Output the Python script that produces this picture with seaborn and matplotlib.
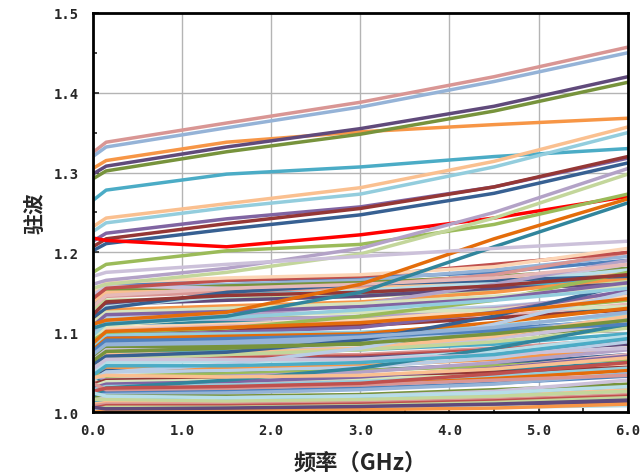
import numpy as np
import pandas as pd
import seaborn as sns
import matplotlib.pyplot as plt
from matplotlib.ticker import MultipleLocator

# frequency sample points (GHz)
freq = [0.0, 0.15, 1.5, 3.0, 4.5, 6.0]

# distinct upper curves
top_curves = [
    [1.325, 1.338, 1.362, 1.388, 1.420, 1.457],
    [1.320, 1.332, 1.356, 1.382, 1.414, 1.450],
    [1.305, 1.315, 1.338, 1.351, 1.360, 1.368],
    [1.298, 1.308, 1.332, 1.355, 1.383, 1.420],
    [1.292, 1.302, 1.326, 1.348, 1.377, 1.413],
    [1.265, 1.278, 1.298, 1.307, 1.320, 1.330],
    [1.232, 1.243, 1.261, 1.281, 1.314, 1.357],
    [1.226, 1.237, 1.256, 1.273, 1.307, 1.350],
    [1.214, 1.224, 1.242, 1.257, 1.282, 1.318],
    [1.207, 1.217, 1.236, 1.255, 1.282, 1.320],
    [1.202, 1.211, 1.229, 1.247, 1.274, 1.312],
    [1.218, 1.215, 1.207, 1.222, 1.243, 1.270],
    [1.175, 1.185, 1.202, 1.210, 1.235, 1.273],
    [1.160, 1.165, 1.180, 1.205, 1.250, 1.305],
    [1.155, 1.160, 1.175, 1.198, 1.243, 1.298],
    [1.110, 1.115, 1.125, 1.160, 1.217, 1.267],
    [1.105, 1.110, 1.120, 1.150, 1.207, 1.262],
    [1.170, 1.175, 1.185, 1.195, 1.205, 1.214],
]
top_colors = ['#D99694', '#95B3D7', '#F79646', '#604A7B', '#77933C', '#4BACC6',
              '#FAC090', '#93CDDD', '#8064A2', '#953735', '#376092', '#FF0000',
              '#9BBB59', '#B3A2C7', '#C3D69B', '#E46C0A', '#31859C', '#CCC1DA']

# the dense bundle below 1.2
low_curves = [
    [1.150, 1.160, 1.165, 1.168, 1.175, 1.190],
    [1.145, 1.155, 1.160, 1.165, 1.178, 1.195],
    [1.140, 1.152, 1.158, 1.162, 1.170, 1.180],
    [1.148, 1.158, 1.155, 1.150, 1.160, 1.185],
    [1.135, 1.148, 1.150, 1.148, 1.155, 1.170],
    [1.138, 1.150, 1.152, 1.156, 1.165, 1.175],
    [1.130, 1.145, 1.150, 1.158, 1.172, 1.200],
    [1.142, 1.155, 1.165, 1.170, 1.185, 1.200],
    [1.128, 1.140, 1.142, 1.145, 1.152, 1.165],
    [1.120, 1.135, 1.140, 1.145, 1.155, 1.160],
    [1.125, 1.132, 1.145, 1.152, 1.162, 1.178],
    [1.115, 1.128, 1.133, 1.138, 1.150, 1.168],
    [1.118, 1.130, 1.150, 1.160, 1.165, 1.170],
    [1.105, 1.118, 1.122, 1.125, 1.132, 1.145],
    [1.100, 1.115, 1.118, 1.118, 1.125, 1.140],
    [1.095, 1.110, 1.115, 1.120, 1.130, 1.148],
    [1.098, 1.112, 1.112, 1.110, 1.118, 1.130],
    [1.090, 1.105, 1.110, 1.115, 1.128, 1.145],
    [1.088, 1.102, 1.108, 1.112, 1.120, 1.135],
    [1.085, 1.100, 1.104, 1.108, 1.118, 1.128],
    [1.092, 1.108, 1.120, 1.125, 1.128, 1.132],
    [1.080, 1.095, 1.100, 1.106, 1.125, 1.152],
    [1.082, 1.097, 1.098, 1.100, 1.108, 1.122],
    [1.078, 1.092, 1.095, 1.098, 1.112, 1.130],
    [1.075, 1.088, 1.092, 1.096, 1.104, 1.115],
    [1.070, 1.082, 1.085, 1.090, 1.100, 1.118],
    [1.068, 1.080, 1.082, 1.085, 1.094, 1.108],
    [1.065, 1.078, 1.078, 1.080, 1.092, 1.112],
    [1.062, 1.075, 1.076, 1.078, 1.085, 1.098],
    [1.060, 1.072, 1.074, 1.080, 1.095, 1.120],
    [1.058, 1.070, 1.070, 1.072, 1.080, 1.092],
    [1.055, 1.068, 1.068, 1.070, 1.078, 1.090],
    [1.057, 1.066, 1.072, 1.078, 1.088, 1.105],
    [1.052, 1.064, 1.065, 1.068, 1.075, 1.085],
    [1.050, 1.062, 1.063, 1.066, 1.076, 1.095],
    [1.045, 1.055, 1.055, 1.058, 1.066, 1.080],
    [1.042, 1.052, 1.050, 1.052, 1.060, 1.072],
    [1.040, 1.050, 1.052, 1.056, 1.068, 1.088],
    [1.048, 1.045, 1.048, 1.052, 1.058, 1.066],
    [1.045, 1.040, 1.045, 1.050, 1.062, 1.078],
    [1.042, 1.036, 1.040, 1.044, 1.052, 1.062],
    [1.040, 1.032, 1.036, 1.040, 1.048, 1.058],
    [1.038, 1.030, 1.035, 1.042, 1.055, 1.072],
    [1.035, 1.040, 1.042, 1.045, 1.050, 1.056],
    [1.032, 1.038, 1.040, 1.042, 1.046, 1.050],
    [1.030, 1.035, 1.038, 1.044, 1.055, 1.070],
    [1.028, 1.032, 1.034, 1.038, 1.045, 1.055],
    [1.025, 1.028, 1.030, 1.034, 1.042, 1.052],
    [1.022, 1.025, 1.026, 1.030, 1.036, 1.045],
    [1.020, 1.022, 1.024, 1.028, 1.035, 1.048],
    [1.018, 1.020, 1.020, 1.022, 1.028, 1.035],
    [1.015, 1.018, 1.018, 1.020, 1.026, 1.040],
    [1.012, 1.015, 1.016, 1.018, 1.022, 1.030],
    [1.010, 1.012, 1.013, 1.015, 1.020, 1.028],
    [1.008, 1.010, 1.010, 1.012, 1.016, 1.022],
    [1.005, 1.008, 1.008, 1.010, 1.014, 1.020],
    [1.003, 1.006, 1.006, 1.008, 1.012, 1.018],
    [1.000, 1.004, 1.004, 1.006, 1.009, 1.012],
    [1.002, 1.002, 1.003, 1.004, 1.006, 1.008],
    [1.000, 1.001, 1.002, 1.003, 1.005, 1.010],
    [1.060, 1.070, 1.075, 1.090, 1.120, 1.160],
    [1.040, 1.050, 1.060, 1.080, 1.110, 1.150],
    [1.090, 1.100, 1.105, 1.120, 1.140, 1.175],
    [1.100, 1.112, 1.120, 1.135, 1.160, 1.190],
    [1.020, 1.030, 1.040, 1.055, 1.080, 1.110],
    [1.152, 1.162, 1.168, 1.172, 1.182, 1.205],
    [1.132, 1.146, 1.155, 1.160, 1.168, 1.185],
    [1.122, 1.138, 1.146, 1.150, 1.158, 1.172],
    [1.112, 1.125, 1.130, 1.136, 1.145, 1.158],
    [1.108, 1.122, 1.126, 1.132, 1.142, 1.162],
    [1.096, 1.111, 1.118, 1.128, 1.140, 1.155],
    [1.086, 1.101, 1.106, 1.112, 1.124, 1.142],
    [1.076, 1.090, 1.090, 1.094, 1.102, 1.110],
    [1.072, 1.085, 1.088, 1.094, 1.106, 1.125],
    [1.064, 1.076, 1.080, 1.086, 1.098, 1.115],
    [1.054, 1.066, 1.066, 1.066, 1.072, 1.080],
    [1.046, 1.058, 1.058, 1.062, 1.072, 1.092],
    [1.043, 1.046, 1.044, 1.046, 1.054, 1.068],
    [1.036, 1.028, 1.030, 1.034, 1.040, 1.046],
    [1.026, 1.030, 1.032, 1.036, 1.048, 1.062],
    [1.016, 1.016, 1.014, 1.016, 1.020, 1.026],
    [1.006, 1.004, 1.005, 1.007, 1.010, 1.015],
    [1.024, 1.020, 1.018, 1.020, 1.024, 1.032],
]
# excel-like theme colours, cycled for the bundle
theme = ['#4F81BD', '#C0504D', '#9BBB59', '#8064A2', '#4BACC6', '#F79646',
         '#E6B9B8', '#95B3D7', '#C3D69B', '#B3A2C7', '#93CDDD', '#FAC090',
         '#376092', '#953735', '#77933C', '#604A7B', '#31859C', '#E46C0A',
         '#D99694', '#B9CDE5', '#D7E4BD', '#CCC1DA', '#B7DEE8', '#FCD5B5']

curves = low_curves + top_curves
colors = [theme[(i * 7) % len(theme)] for i in range(len(low_curves))] + top_colors

rows = []
for k, c in enumerate(curves):
    for f, v in zip(freq, c):
        rows.append((k, f, v))
df = pd.DataFrame(rows, columns=['curve', 'freq', 'vswr'])

sns.set_style('white')
plt.rcParams['font.family'] = ['Noto Sans CJK SC', 'DejaVu Sans']

fig, ax = plt.subplots(figsize=(6.4, 4.77), dpi=100)
fig.subplots_adjust(left=0.145, right=0.981, bottom=0.134, top=0.971)

sns.lineplot(data=df, x='freq', y='vswr', hue='curve', palette=colors,
             estimator=None, sort=False, legend=False, linewidth=2.5, ax=ax)

ax.set_xlim(0, 6)
ax.set_ylim(1.0, 1.5)
ax.xaxis.set_major_locator(MultipleLocator(1.0))
ax.yaxis.set_major_locator(MultipleLocator(0.1))
ax.yaxis.set_minor_locator(MultipleLocator(0.05))
ax.xaxis.set_minor_locator(MultipleLocator(0.5))
ax.grid(True, which='major', color='#B4B4B4', linewidth=1)
ax.tick_params(which='both', direction='in', length=4, width=1.2,
               left=True, bottom=True)
ax.tick_params(which='minor', length=3)
for s in ax.spines.values():
    s.set_color('black')
    s.set_linewidth(2)

ax.set_xticks([0, 1, 2, 3, 4, 5, 6])
ax.set_xticklabels([f'{v:.1f}' for v in range(7)], family='DejaVu Sans Mono',
                   fontsize=10, fontweight='bold')
ax.set_yticks([1.0, 1.1, 1.2, 1.3, 1.4, 1.5])
ax.set_yticklabels([f'{v:.1f}' for v in [1.0, 1.1, 1.2, 1.3, 1.4, 1.5]],
                   family='DejaVu Sans Mono', fontsize=10, fontweight='bold')
ax.tick_params(axis='x', pad=8)
ax.tick_params(axis='y', pad=10)

ax.set_xlabel('频率（GHz）', fontsize=16, fontweight='bold', labelpad=10)
ax.set_ylabel('驻波', fontsize=15, fontweight='bold', labelpad=6)

fig.savefig('out.png', dpi=100)
